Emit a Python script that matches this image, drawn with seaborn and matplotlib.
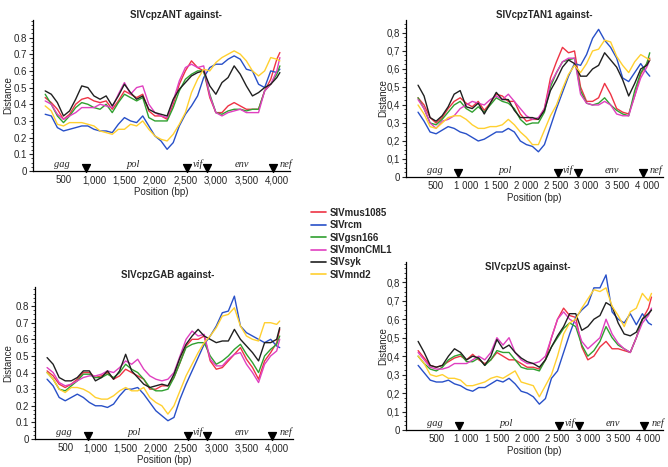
import matplotlib
matplotlib.use("Agg")
import matplotlib.pyplot as plt
from matplotlib.lines import Line2D
from matplotlib.ticker import MultipleLocator
import numpy as np
import pandas as pd
import seaborn as sns

# ---------------- data ----------------
positions = [200, 300, 400, 500, 600, 700, 800, 900, 1000, 1100,
             1200, 1300, 1400, 1500, 1600, 1700, 1800, 1900, 2000, 2100,
             2200, 2300, 2400, 2500, 2600, 2700, 2800, 2900, 3000, 3100,
             3200, 3300, 3400, 3500, 3600, 3700, 3800, 3900, 4000, 4050]

series_names = ["SIVmus1085", "SIVrcm", "SIVgsn166", "SIVmonCML1", "SIVsyk", "SIVmnd2"]
series_colors = ["#ee3344", "#2850c8", "#30a030", "#e040c0", "#202020", "#ffd030"]

panel_titles = ["SIVcpzANT against-", "SIVcpzTAN1 against-",
                "SIVcpzGAB against-", "SIVcpzUS against-"]

# SIVcpzANT
ant_mus1085 = [0.44,0.41,0.37,0.31,0.34,0.40,0.43,0.44,0.42,0.41,0.42,0.37,0.42,0.48,0.46,0.44,0.46,0.36,0.33,0.33,
               0.31,0.40,0.52,0.60,0.66,0.62,0.60,0.44,0.35,0.35,0.39,0.41,0.39,0.37,0.37,0.37,0.48,0.55,0.67,0.71]
ant_rcm = [0.34,0.33,0.26,0.24,0.25,0.26,0.27,0.27,0.25,0.24,0.24,0.23,0.28,0.32,0.30,0.29,0.33,0.27,0.21,0.18,
           0.13,0.17,0.27,0.34,0.39,0.45,0.56,0.62,0.64,0.64,0.67,0.69,0.67,0.61,0.60,0.52,0.50,0.60,0.59,0.61]
ant_gsn166 = [0.46,0.40,0.33,0.29,0.33,0.38,0.41,0.40,0.38,0.37,0.40,0.35,0.41,0.46,0.44,0.42,0.44,0.32,0.30,0.30,
              0.30,0.38,0.48,0.55,0.58,0.60,0.60,0.46,0.35,0.34,0.36,0.37,0.37,0.36,0.37,0.37,0.48,0.52,0.58,0.63]
ant_monCML1 = [0.42,0.40,0.34,0.31,0.33,0.35,0.38,0.38,0.38,0.40,0.39,0.38,0.46,0.53,0.46,0.50,0.51,0.40,0.35,0.33,
               0.32,0.42,0.54,0.62,0.64,0.62,0.63,0.45,0.35,0.33,0.35,0.36,0.37,0.35,0.35,0.35,0.48,0.52,0.60,0.68]
ant_syk = [0.48,0.46,0.41,0.33,0.36,0.43,0.51,0.50,0.45,0.43,0.45,0.39,0.45,0.52,0.47,0.43,0.45,0.37,0.35,0.34,
           0.33,0.43,0.49,0.53,0.57,0.59,0.60,0.51,0.46,0.53,0.56,0.63,0.58,0.51,0.45,0.47,0.50,0.52,0.56,0.59]
ant_mnd2 = [0.39,0.36,0.28,0.27,0.29,0.29,0.29,0.28,0.27,0.24,0.23,0.22,0.25,0.25,0.28,0.27,0.30,0.25,0.21,0.19,
            0.18,0.22,0.28,0.35,0.47,0.55,0.61,0.60,0.65,0.68,0.70,0.72,0.70,0.66,0.60,0.57,0.60,0.68,0.67,0.66]

# SIVcpzTAN1
tan_mus1085 = [0.44,0.40,0.33,0.30,0.33,0.38,0.42,0.44,0.41,0.39,0.42,0.37,0.41,0.46,0.45,0.42,0.42,0.35,0.31,0.32,
               0.32,0.38,0.55,0.64,0.72,0.69,0.70,0.50,0.42,0.42,0.44,0.52,0.46,0.38,0.36,0.35,0.45,0.57,0.63,0.66]
tan_rcm = [0.36,0.31,0.25,0.24,0.26,0.28,0.27,0.25,0.24,0.22,0.20,0.21,0.23,0.25,0.25,0.27,0.25,0.20,0.18,0.17,
           0.14,0.18,0.28,0.38,0.47,0.56,0.63,0.62,0.68,0.77,0.82,0.76,0.72,0.66,0.55,0.53,0.58,0.63,0.58,0.56]
tan_gsn166 = [0.44,0.38,0.30,0.29,0.32,0.36,0.40,0.42,0.38,0.36,0.39,0.36,0.40,0.44,0.42,0.41,0.38,0.32,0.29,0.30,
              0.30,0.36,0.50,0.58,0.64,0.65,0.66,0.48,0.41,0.40,0.41,0.44,0.40,0.37,0.35,0.34,0.48,0.58,0.63,0.69]
tan_monCML1 = [0.43,0.38,0.30,0.27,0.31,0.32,0.34,0.38,0.40,0.42,0.41,0.40,0.43,0.45,0.43,0.46,0.42,0.38,0.34,0.32,
               0.33,0.38,0.52,0.58,0.64,0.66,0.66,0.46,0.41,0.40,0.40,0.42,0.40,0.35,0.34,0.34,0.45,0.55,0.61,0.65]
tan_syk = [0.51,0.45,0.33,0.31,0.34,0.39,0.46,0.48,0.39,0.38,0.41,0.35,0.41,0.47,0.43,0.43,0.37,0.33,0.33,0.33,
           0.32,0.37,0.48,0.54,0.61,0.65,0.63,0.56,0.56,0.60,0.62,0.69,0.65,0.61,0.54,0.45,0.52,0.60,0.62,0.65]
tan_mnd2 = [0.40,0.35,0.28,0.27,0.30,0.33,0.34,0.34,0.32,0.29,0.27,0.27,0.28,0.28,0.29,0.32,0.29,0.25,0.22,0.18,
            0.18,0.26,0.34,0.40,0.49,0.57,0.62,0.58,0.63,0.70,0.71,0.76,0.75,0.67,0.62,0.58,0.64,0.68,0.66,0.65]

# SIVcpzGAB
gab_mus1085 = [0.41,0.38,0.33,0.31,0.33,0.36,0.40,0.40,0.37,0.38,0.40,0.36,0.38,0.42,0.40,0.38,0.36,0.30,0.30,0.32,
               0.32,0.37,0.46,0.56,0.60,0.60,0.62,0.47,0.42,0.43,0.47,0.51,0.55,0.48,0.43,0.36,0.47,0.52,0.58,0.66]
gab_rcm = [0.36,0.32,0.25,0.23,0.25,0.27,0.25,0.22,0.20,0.20,0.19,0.21,0.26,0.30,0.30,0.31,0.27,0.22,0.17,0.14,
           0.11,0.13,0.24,0.33,0.41,0.49,0.57,0.62,0.68,0.76,0.77,0.86,0.68,0.64,0.62,0.60,0.58,0.60,0.56,0.55]
gab_gsn166 = [0.40,0.36,0.30,0.29,0.32,0.35,0.39,0.39,0.37,0.37,0.39,0.37,0.40,0.45,0.42,0.40,0.36,0.31,0.29,0.29,
              0.30,0.37,0.46,0.55,0.57,0.58,0.58,0.50,0.45,0.47,0.50,0.54,0.57,0.51,0.46,0.40,0.50,0.54,0.57,0.62]
gab_monCML1 = [0.43,0.40,0.34,0.32,0.33,0.35,0.37,0.38,0.38,0.39,0.41,0.40,0.43,0.47,0.45,0.48,0.42,0.38,0.36,0.35,
               0.36,0.40,0.50,0.60,0.65,0.62,0.63,0.48,0.44,0.44,0.48,0.51,0.52,0.45,0.40,0.34,0.45,0.50,0.53,0.60]
gab_syk = [0.49,0.45,0.37,0.35,0.35,0.37,0.41,0.41,0.35,0.37,0.41,0.36,0.41,0.51,0.41,0.37,0.33,0.31,0.32,0.33,
           0.32,0.39,0.49,0.57,0.62,0.66,0.62,0.60,0.58,0.59,0.59,0.66,0.60,0.56,0.52,0.47,0.58,0.58,0.60,0.67]
gab_mnd2 = [0.40,0.36,0.30,0.28,0.31,0.31,0.30,0.28,0.25,0.24,0.24,0.26,0.29,0.31,0.29,0.29,0.31,0.25,0.22,0.20,
            0.15,0.20,0.29,0.38,0.45,0.52,0.58,0.62,0.67,0.74,0.75,0.79,0.68,0.62,0.60,0.59,0.70,0.70,0.69,0.71]

# SIVcpzUS
us_mus1085 = [0.43,0.39,0.35,0.34,0.35,0.37,0.39,0.40,0.38,0.41,0.38,0.36,0.38,0.42,0.40,0.38,0.38,0.36,0.34,0.34,
              0.33,0.38,0.50,0.60,0.66,0.62,0.61,0.45,0.38,0.40,0.45,0.48,0.44,0.44,0.43,0.42,0.50,0.60,0.66,0.72]
us_rcm = [0.35,0.31,0.27,0.26,0.26,0.27,0.25,0.24,0.22,0.21,0.23,0.23,0.25,0.27,0.26,0.28,0.25,0.21,0.20,0.18,
          0.14,0.17,0.28,0.32,0.42,0.52,0.61,0.65,0.68,0.77,0.77,0.84,0.64,0.60,0.58,0.63,0.57,0.63,0.58,0.57]
us_gsn166 = [0.40,0.36,0.33,0.32,0.34,0.38,0.40,0.41,0.37,0.37,0.39,0.35,0.38,0.43,0.42,0.42,0.38,0.34,0.33,0.33,
             0.32,0.38,0.45,0.50,0.55,0.58,0.56,0.46,0.40,0.43,0.48,0.56,0.50,0.46,0.44,0.42,0.50,0.60,0.63,0.65]
us_monCML1 = [0.42,0.38,0.34,0.33,0.33,0.34,0.36,0.36,0.36,0.38,0.40,0.38,0.42,0.50,0.46,0.50,0.42,0.38,0.36,0.36,
              0.37,0.40,0.50,0.60,0.64,0.60,0.58,0.48,0.44,0.47,0.50,0.60,0.52,0.47,0.44,0.42,0.50,0.58,0.62,0.66]
us_syk = [0.48,0.42,0.35,0.34,0.35,0.40,0.44,0.42,0.38,0.40,0.39,0.35,0.40,0.49,0.44,0.46,0.42,0.39,0.37,0.36,
          0.34,0.38,0.45,0.51,0.56,0.63,0.63,0.54,0.56,0.60,0.62,0.69,0.67,0.58,0.52,0.51,0.53,0.60,0.63,0.65]
us_mnd2 = [0.40,0.36,0.30,0.29,0.30,0.28,0.28,0.27,0.24,0.24,0.25,0.26,0.28,0.29,0.28,0.30,0.32,0.26,0.25,0.24,
           0.18,0.24,0.30,0.40,0.52,0.58,0.60,0.66,0.71,0.76,0.75,0.77,0.67,0.62,0.56,0.64,0.66,0.74,0.70,0.74]

x_ticks = [500, 1000, 1500, 2000, 2500, 3000, 3500, 4000]
x_labels_comma = ["500", "1,000", "1,500", "2,000", "2,500", "3,000", "3,500", "4,000"]
x_labels_space = ["500", "1 000", "1 500", "2 000", "2 500", "3 000", "3 500", "4 000"]
y_ticks = [0, 0.1, 0.2, 0.3, 0.4, 0.5, 0.6, 0.7, 0.8]
y_labels_dot = ["0", "0.1", "0.2", "0.3", "0.4", "0.5", "0.6", "0.7", "0.8"]
y_labels_comma = ["0", "0,1", "0,2", "0,3", "0,4", "0,5", "0,6", "0,7", "0,8"]

gene_names = ["gag", "pol", "vif", "env", "nef"]
gene_label_x = [480, 1650, 2700, 3420, 4150]
gene_marks = [870, 2530, 2850, 3930]

# ---------------- styling ----------------
sns.set_style("ticks")
plt.rcParams["font.family"] = ["Liberation Sans", "DejaVu Sans"]

W, H = 668, 467
fig = plt.figure(figsize=(W / 100, H / 100), dpi=100)

panels = [
    dict(values=[ant_mus1085, ant_rcm, ant_gsn166, ant_monCML1, ant_syk, ant_mnd2],
         box=(33, 20, 290, 171), xmax=4216, ymax=0.905, xl=x_labels_comma, yl=y_labels_dot,
         title_xy=(176, 15), ylab_x=8),
    dict(values=[tan_mus1085, tan_rcm, tan_gsn166, tan_monCML1, tan_syk, tan_mnd2],
         box=(406, 20, 663, 177), xmax=4270, ymax=0.872, xl=x_labels_space, yl=y_labels_comma,
         title_xy=(544, 15), ylab_x=383),
    dict(values=[gab_mus1085, gab_rcm, gab_gsn166, gab_monCML1, gab_syk, gab_mnd2],
         box=(35, 287, 293, 439), xmax=4270, ymax=0.915, xl=x_labels_comma, yl=y_labels_dot,
         title_xy=(168, 275), ylab_x=8),
    dict(values=[us_mus1085, us_rcm, us_gsn166, us_monCML1, us_syk, us_mnd2],
         box=(406, 262, 663, 430), xmax=4240, ymax=0.91, xl=x_labels_space, yl=y_labels_comma,
         title_xy=(528, 267), ylab_x=383),
]

palette = dict(zip(series_names, series_colors))

for i, p in enumerate(panels):
    l, t, r, b = p["box"]
    ax = fig.add_axes([l / W, 1 - b / H, (r - l) / W, (b - t) / H])
    frames = []
    for name, vals in zip(series_names, p["values"]):
        frames.append(pd.DataFrame({"Position": positions, "Distance": vals, "Virus": name}))
    df = pd.concat(frames, ignore_index=True)
    sns.lineplot(data=df, x="Position", y="Distance", hue="Virus", palette=palette,
                 hue_order=series_names, linewidth=1.0, legend=False, ax=ax, sort=False)
    ax.set_xlim(0, p["xmax"])
    ax.set_ylim(0, p["ymax"])
    ax.set_xticks(x_ticks)
    ax.set_xticklabels(p["xl"], fontsize=7)
    ax.set_yticks(y_ticks)
    ax.set_yticklabels(p["yl"], fontsize=7)
    ax.yaxis.set_minor_locator(MultipleLocator(0.025))
    ax.tick_params(axis="y", which="major", length=3, width=0.8, direction="out", pad=1)
    ax.tick_params(axis="y", which="minor", length=1.5, width=0.6, direction="out")
    ax.tick_params(axis="x", length=0, pad=3)
    sns.despine(ax=ax)
    for s in ("left", "bottom"):
        ax.spines[s].set_linewidth(0.9)
        ax.spines[s].set_color("black")
    ax.set_xlabel("Position (bp)", fontsize=7, labelpad=1)
    ax.set_ylabel("")
    fig.text(p["ylab_x"] / W, 1 - ((t + b) / 2) / H, "Distance", rotation=90,
             fontsize=7, ha="center", va="center")
    fig.text(p["title_xy"][0] / W, 1 - p["title_xy"][1] / H, panel_titles[i],
             fontsize=7, fontweight="bold", ha="center", va="center")
    # gene annotation
    ax.scatter(gene_marks, [0.02] * len(gene_marks), marker="v", s=32, color="black",
               clip_on=False, zorder=5)
    for gx, gname in zip(gene_label_x, gene_names):
        ax.text(gx, 0.012, gname, fontsize=7.5, fontstyle="italic",
                family=["Liberation Serif", "DejaVu Serif"], ha="center", va="bottom",
                clip_on=False)

handles = [Line2D([0], [0], color=c, lw=1.2) for c in series_colors]
leg = fig.legend(handles, series_names, loc="upper left",
                 bbox_to_anchor=(302 / W, 1 - 199 / H), frameon=False,
                 handlelength=1.6, handletextpad=0.3, labelspacing=0.25,
                 prop={"size": 7, "weight": "bold"})

fig.savefig("out.png", dpi=100)
